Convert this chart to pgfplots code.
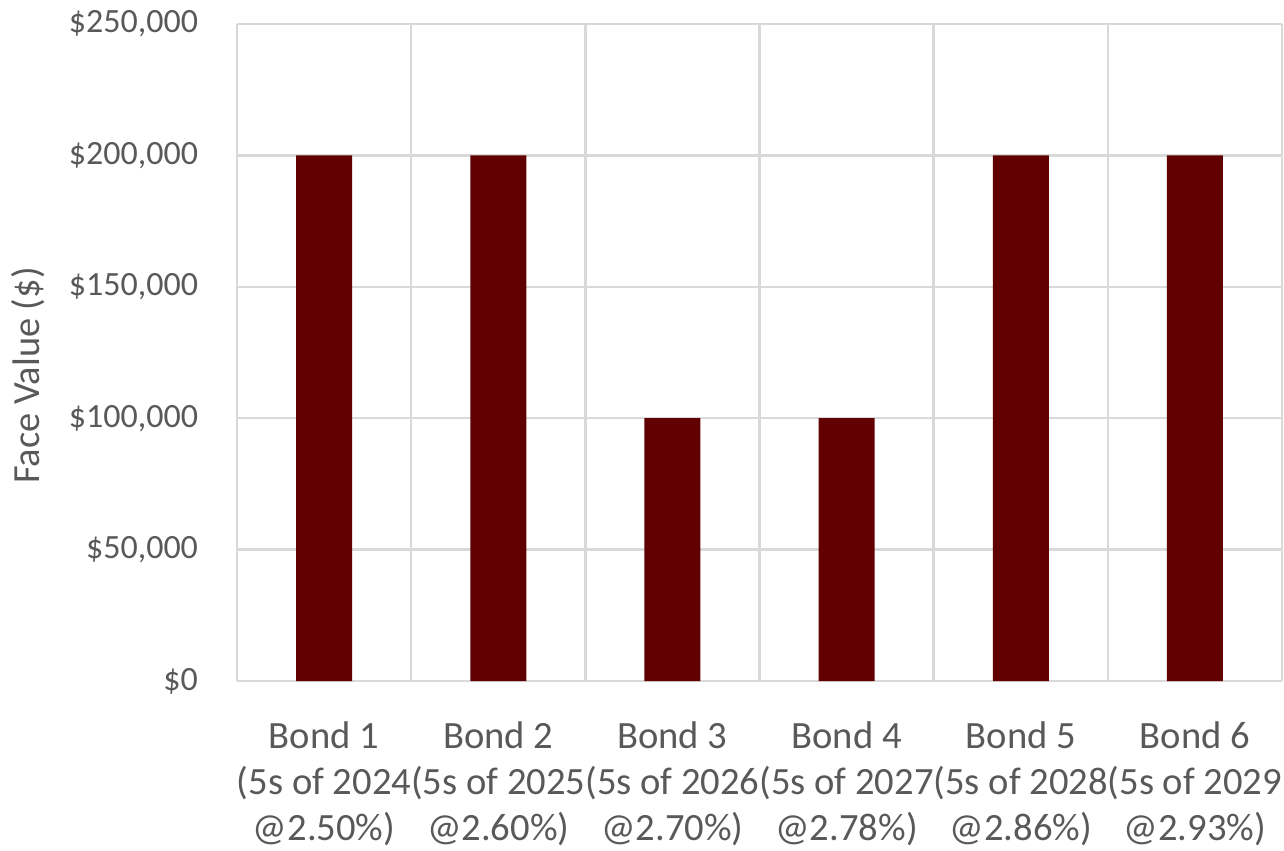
\documentclass[border=0pt]{standalone}
\usepackage{pgfplots}
\pgfplotsset{compat=1.18}
\usepackage{fontspec}
\setmainfont{Carlito}
\usetikzlibrary{calc}
\definecolor{barred}{HTML}{600000}
\definecolor{gridgray}{HTML}{D9D9D9}
\definecolor{txtgray}{HTML}{595959}
\begin{document}
\begin{tikzpicture}
\begin{axis}[
  name=ax,
  scale only axis,
  width=522.5pt, height=328.5pt,
  xmin=-0.5, xmax=5.5,
  ymin=0, ymax=250000,
  scaled y ticks=false,
  xtick={0,1,2,3,4,5},
  xticklabels={{Bond 1\\(5s of 2024\\@2.50\%)},{Bond 2\\(5s of 2025\\@2.60\%)},{Bond 3\\(5s of 2026\\@2.70\%)},{Bond 4\\(5s of 2027\\@2.78\%)},{Bond 5\\(5s of 2028\\@2.86\%)},{Bond 6\\(5s of 2029\\@2.93\%)}},
  xticklabel style={align=center, font=\fontsize{19.3}{23}\selectfont, text=txtgray, yshift=-17pt},
  minor xtick={-0.5,0.5,1.5,2.5,3.5,4.5,5.5},
  xminorgrids,
  minor x grid style={gridgray, line width=1.2pt},
  ytick={0,50000,100000,150000,200000,250000},
  yticklabels={\$0,\$50{,}000,\$100{,}000,\$150{,}000,\$200{,}000,\$250{,}000},
  yticklabel style={font=\fontsize{17}{20}\selectfont, text=txtgray, xshift=-16pt},
  ymajorgrids,
  major y grid style={gridgray, line width=1.2pt},
  major tick length=0pt, minor tick length=0pt,
  axis line style={draw=none},
  ylabel={Face Value (\$)},
  ylabel style={at={(axis description cs:-0.2,0.465)}, anchor=center, rotate=0, font=\fontsize{19.2}{22}\selectfont, text=txtgray},
  ybar, bar width=28pt,
  clip=false,
]
\addplot[fill=barred, draw=none] coordinates {(0,200000) (1,200000) (2,100000) (3,100000) (4,200000) (5,200000)};
\end{axis}
\pgfresetboundingbox
\path ($(ax.south west)+(-118.5pt,-84.5pt)$) rectangle ($(ax.north east)+(1pt,12pt)$);
\end{tikzpicture}
\end{document}
